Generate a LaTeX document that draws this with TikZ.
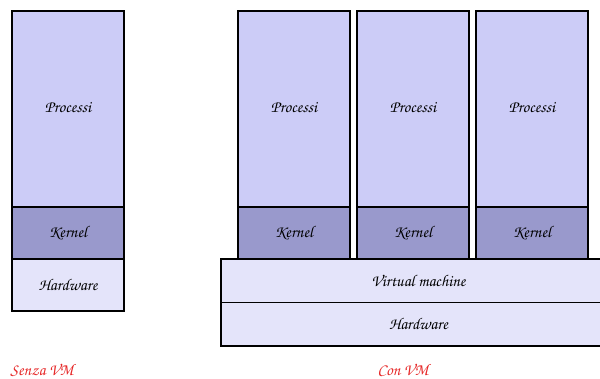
\documentclass[tikz,border=0pt]{standalone}
\usepackage[T1]{fontenc}
\usepackage{tikz}
\usetikzlibrary{positioning,calc}

\newcommand{\vmfont}{\fontfamily{pzc}\fontseries{mb}\fontshape{it}\fontsize{9.4}{11}\selectfont}

\definecolor{procfill}{RGB}{204,204,247}
\definecolor{kernfill}{RGB}{153,153,204}
\definecolor{hwfill}{RGB}{228,228,250}
\definecolor{vmred}{RGB}{230,40,40}

\begin{document}
\begin{tikzpicture}[
    x=0.02cm, y=-0.02cm,
    node distance = 0pt,
    layer/.style = {rectangle, draw=black, line width=1.1pt, outer sep=0pt, minimum width=2.24cm, align=center, font=\vmfont, inner sep=0pt},
    procbox/.style = {layer, fill=procfill, minimum height=3.92cm},
    kernbox/.style = {layer, fill=kernfill, minimum height=1.04cm},
    hwbox/.style = {layer, fill=hwfill, minimum height=1.04cm},
    widebox/.style = {layer, fill=hwfill, minimum width=7.9cm, minimum height=0.87cm},
    caption/.style = {font=\vmfont, text=vmred, inner sep=0pt}
]
    \useasboundingbox (0,0) rectangle (600,379);
    \clip (0,0) rectangle (600,379);

    % 1. Senza VM
    \node [procbox, anchor=north west] (proc0) at (12,11) {};
    \node [kernbox, below=of proc0] (kern0) {Kernel};
    \node [hwbox, below=of kern0] (hw0) {Hardware};

    % 2. Con VM: three guests
    \foreach \i/\x in {1/238, 2/357, 3/476} {
        \node [procbox, anchor=north west] (proc\i) at (\x,11) {};
        \node [kernbox, below=of proc\i] (kern\i) {Kernel};
    }

    % 3. Virtual machine and hardware below
    \node [widebox, anchor=north west] (vm) at (221,259) {Virtual machine};
    \node [widebox, below=of vm] (hw) {Hardware};

    % 4. Labels inside process boxes
    \foreach \i in {0,...,3}
        \node [font=\vmfont] (plabel\i) at ($(proc\i.north)+(0,97)$) {Processi};

    % 5. Captions
    \node [caption] (senza) at (42,370) {Senza VM};
    \node [caption] (con) at (403,370) {Con VM};
\end{tikzpicture}
\end{document}
